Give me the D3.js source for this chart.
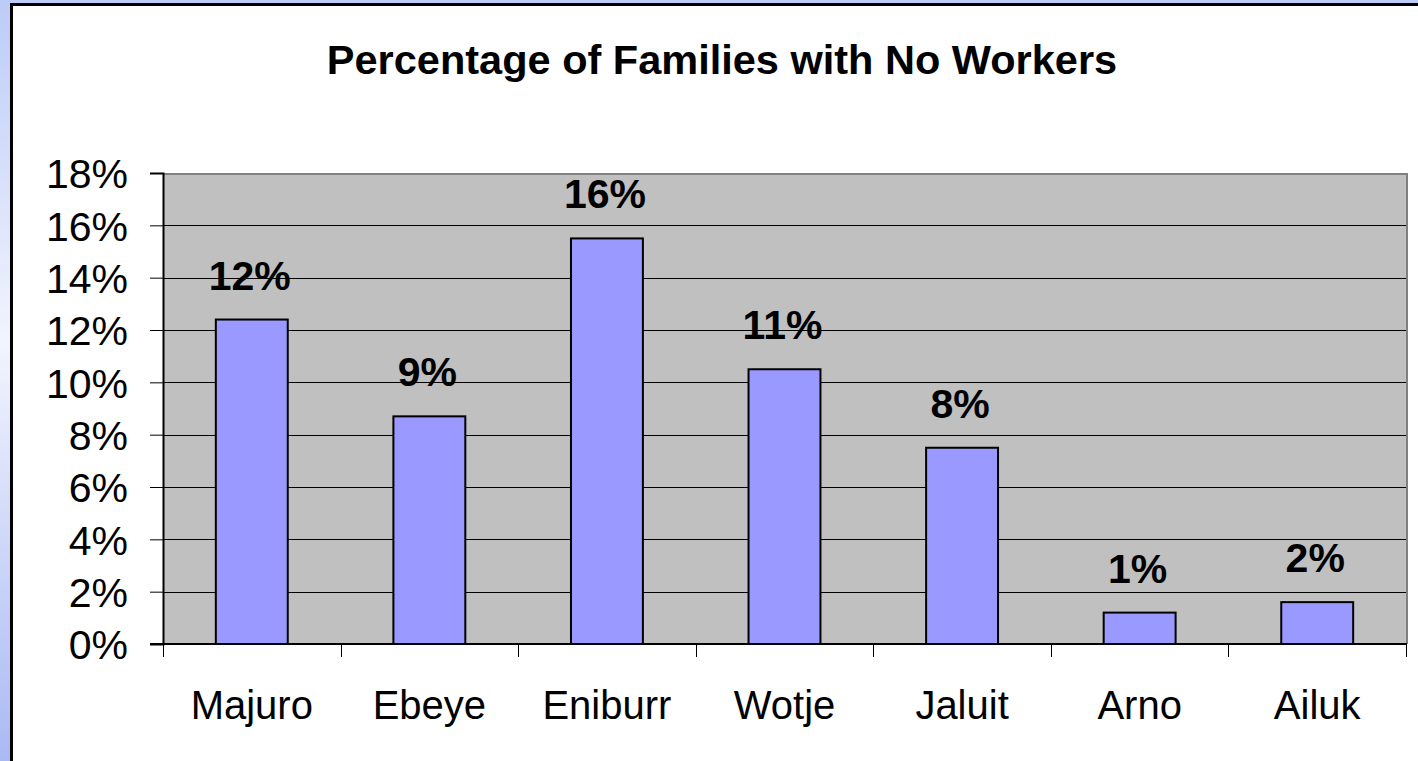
<!DOCTYPE html>
<html>
<head>
<meta charset="utf-8">
<script src="https://cdn.jsdelivr.net/npm/d3@7"></script>
<style>
  html, body { margin: 0; padding: 0; overflow: hidden; }
  body { width: 1418px; height: 761px; }
  svg { display: block; font-family: "Liberation Sans", Arial, sans-serif; }
</style>
</head>
<body>
<div id="chart"></div>
<script>
// 数据
const categories = ['Majuro', 'Ebeye', 'Eniburr', 'Wotje', 'Jaluit', 'Arno', 'Ailuk'];
const values = [12.4, 8.7, 15.5, 10.5, 7.5, 1.2, 1.6];
const labels = ['12%', '9%', '16%', '11%', '8%', '1%', '2%'];
const yTicks = [0, 2, 4, 6, 8, 10, 12, 14, 16, 18];

const width = 1418, height = 761;
const plot = { left: 163, top: 173, right: 1406, bottom: 644 };

const svg = d3.select('#chart')
    .append('svg')
    .attr('width', width)
    .attr('height', height);

// 背景渐变
const defs = svg.append('defs');
const grad = defs.append('linearGradient')
    .attr('id', 'bg')
    .attr('x1', 0).attr('y1', 0).attr('x2', 0).attr('y2', 1);
grad.append('stop').attr('offset', '0%').attr('stop-color', '#bccbf7');
grad.append('stop').attr('offset', '45%').attr('stop-color', '#f2f4fe');
grad.append('stop').attr('offset', '100%').attr('stop-color', '#a9b9f3');

svg.append('rect')
    .attr('width', width)
    .attr('height', height)
    .attr('fill', 'url(#bg)');

// 图表区域
svg.append('rect')
    .attr('x', 11.5)
    .attr('y', 4.5)
    .attr('width', width + 20)
    .attr('height', height + 20)
    .attr('fill', '#ffffff')
    .attr('stroke', '#000000')
    .attr('stroke-width', 3);

// 标题
svg.append('text')
    .attr('x', 722)
    .attr('y', 74)
    .attr('text-anchor', 'middle')
    .attr('font-size', '41.5px')
    .attr('font-weight', 'bold')
    .attr('fill', '#000')
    .text('Percentage of Families with No Workers');

const x = d3.scaleBand()
    .domain(categories)
    .range([plot.left, plot.right])
    .paddingInner(0.595)
    .paddingOuter(0.2975);

const xOuter = d3.scaleBand()
    .domain(categories)
    .range([plot.left, plot.right]);

const y = d3.scaleLinear()
    .domain([0, 18])
    .range([plot.bottom, plot.top]);

// 绘图区背景
svg.append('rect')
    .attr('x', plot.left)
    .attr('y', plot.top)
    .attr('width', plot.right - plot.left)
    .attr('height', plot.bottom - plot.top)
    .attr('fill', '#c0c0c0');

// 网格线
svg.append('g')
    .selectAll('line')
    .data(yTicks.filter(d => d > 0 && d < 18))
    .enter()
    .append('line')
    .attr('x1', plot.left)
    .attr('x2', plot.right)
    .attr('y1', d => Math.round(y(d)) + 0.5)
    .attr('y2', d => Math.round(y(d)) + 0.5)
    .attr('stroke', '#000')
    .attr('stroke-width', 1);

// 绘图区边框 (上, 右)
svg.append('path')
    .attr('d', `M${plot.left},${plot.top + 1}H${plot.right + 1}V${plot.bottom}`)
    .attr('fill', 'none')
    .attr('stroke', '#808080')
    .attr('stroke-width', 2);

// 柱
svg.append('g')
    .selectAll('rect')
    .data(values)
    .enter()
    .append('rect')
    .attr('x', (d, i) => x(categories[i]))
    .attr('y', d => y(d))
    .attr('width', x.bandwidth())
    .attr('height', d => plot.bottom - y(d))
    .attr('fill', '#9999ff')
    .attr('stroke', '#000')
    .attr('stroke-width', 2);

// 数据标签
svg.append('g')
    .selectAll('text')
    .data(values)
    .enter()
    .append('text')
    .attr('x', (d, i) => x(categories[i]) + x.bandwidth() / 2 - 2)
    .attr('y', d => y(d) - 30)
    .attr('text-anchor', 'middle')
    .attr('font-size', '41px')
    .attr('font-weight', 'bold')
    .attr('fill', '#000')
    .text((d, i) => labels[i]);

// Y轴
const yAxis = svg.append('g')
    .attr('transform', `translate(${plot.left},0)`)
    .call(d3.axisLeft(y)
        .tickValues(yTicks)
        .tickSize(13)
        .tickPadding(22)
        .tickFormat(d => d + '%'));
yAxis.select('.domain').attr('stroke', '#000').attr('stroke-width', 2);
yAxis.selectAll('.tick line').attr('stroke', '#000').attr('stroke-width', 1);
yAxis.selectAll('.tick text')
    .attr('font-size', '41px')
    .attr('font-family', '"Liberation Sans", Arial, sans-serif')
    .attr('fill', '#000')
    .attr('dy', '0.36em');

// X轴
const boundaries = categories.map(c => xOuter(c)).concat([plot.right]);
const xAxis = svg.append('g');
xAxis.append('line')
    .attr('x1', plot.left - 13)
    .attr('x2', plot.right + 1)
    .attr('y1', plot.bottom)
    .attr('y2', plot.bottom)
    .attr('stroke', '#000')
    .attr('stroke-width', 2);
xAxis.selectAll('.xtick')
    .data(boundaries)
    .enter()
    .append('line')
    .attr('class', 'xtick')
    .attr('x1', d => Math.round(d) + 0.5)
    .attr('x2', d => Math.round(d) + 0.5)
    .attr('y1', plot.bottom)
    .attr('y2', plot.bottom + 13)
    .attr('stroke', '#000')
    .attr('stroke-width', 1);
xAxis.selectAll('.xlabel')
    .data(categories)
    .enter()
    .append('text')
    .attr('class', 'xlabel')
    .attr('x', d => xOuter(d) + xOuter.bandwidth() / 2)
    .attr('y', 719)
    .attr('text-anchor', 'middle')
    .attr('font-size', '40px')
    .attr('fill', '#000')
    .text(d => d);
</script>
</body>
</html>
